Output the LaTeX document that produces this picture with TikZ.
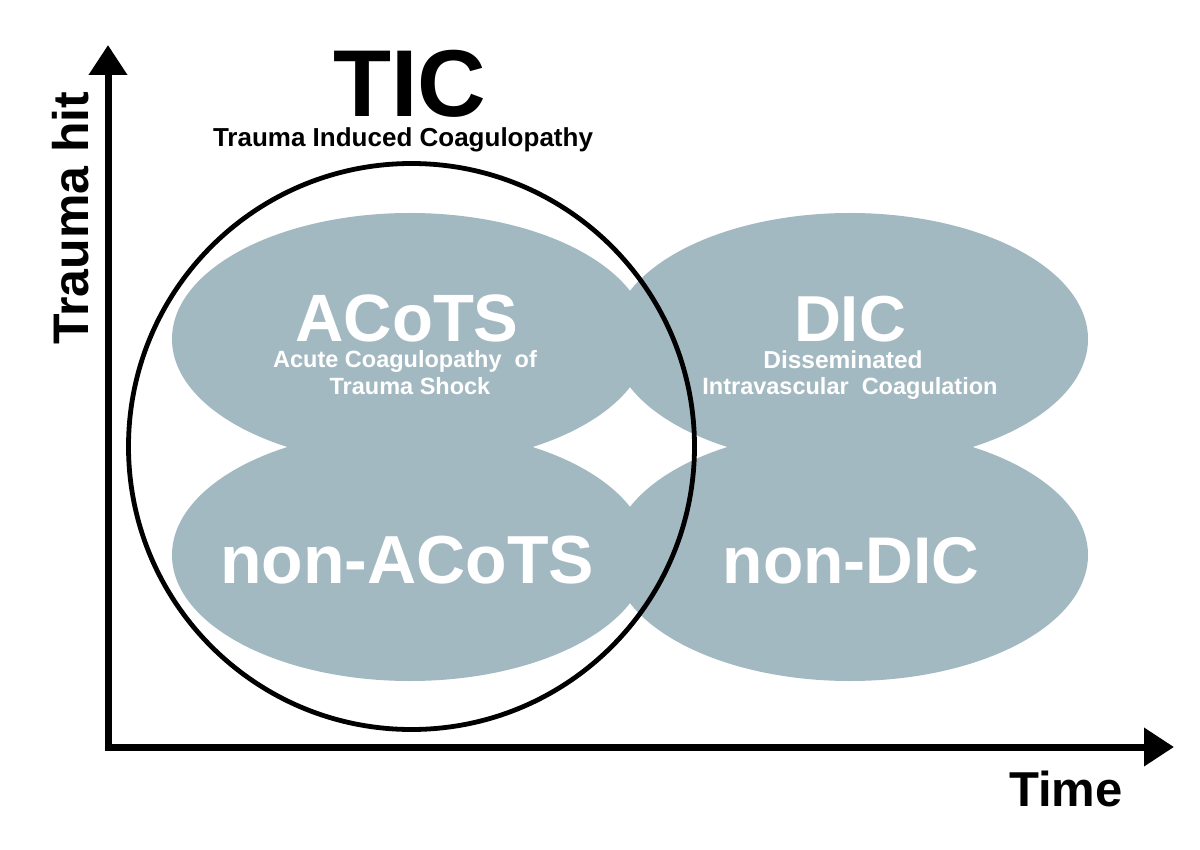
\documentclass[tikz,border=0pt]{standalone}
\usepackage{fontspec}
\setmainfont{Liberation Sans}
\usetikzlibrary{arrows.meta}
\definecolor{blobgray}{RGB}{163,185,194}
\newcommand{\fs}[1]{\fontsize{#1}{#1}\selectfont\bfseries}
\begin{document}
\begin{tikzpicture}[x=1pt,y=-1pt,
  blob/.style={fill=blobgray,draw=none},
  whitetxt/.style={text=white,inner sep=0pt,anchor=base},
  blacktxt/.style={text=black,inner sep=0pt,anchor=base},
  axisline/.style={line width=7pt,line join=miter,
     {Triangle[length=30pt,width=37pt]}-{Triangle[length=30pt,width=37pt]}}]
\useasboundingbox (0,0) rectangle (1200,850);
% ellipses
\fill[blob] (410,339) ellipse [x radius=238,y radius=126];
\fill[blob] (850,339) ellipse [x radius=238,y radius=126];
\fill[blob] (410,555) ellipse [x radius=238,y radius=126];
\fill[blob] (850,555) ellipse [x radius=238,y radius=126];
% circle
\draw[line width=4.8pt] (411.5,446.5) circle [radius=283];
% axes
\coordinate (ytip) at (108,45);
\coordinate (corner) at (108,747);
\coordinate (xtip) at (1174,747);
\draw[axisline] (ytip) -- (corner) -- (xtip);
% texts
\node[blacktxt] (tic) at (410,117) {\fs{95}TIC};
\node[blacktxt] (ticsub) at (403,147) {\fs{26}Trauma Induced Coagulopathy};
\node[whitetxt] (acots) at (407,342) {\fs{67}ACoTS};
\node[whitetxt] (acots1) at (405,368) {\fs{23.5}Acute Coagulopathy\ \ of};
\node[whitetxt] (acots2) at (410,395) {\fs{23.5}Trauma Shock};
\node[whitetxt] (dic) at (850,342) {\fs{65}DIC};
\node[whitetxt] (dic1) at (843,369) {\fs{24.5}Disseminated};
\node[whitetxt] (dic2) at (850,395) {\fs{23.5}Intravascular\ \ Coagulation};
\node[whitetxt] (nonacots) at (407,583) {\fs{68}non-ACoTS};
\node[whitetxt] (nondic) at (851,583) {\fs{66}non-DIC};
\node[blacktxt] (time) at (1066,806) {\fs{49}Time};
\node[blacktxt,rotate=90] (hit) at (88,218) {\fs{50}Trauma hit};
\end{tikzpicture}
\end{document}
